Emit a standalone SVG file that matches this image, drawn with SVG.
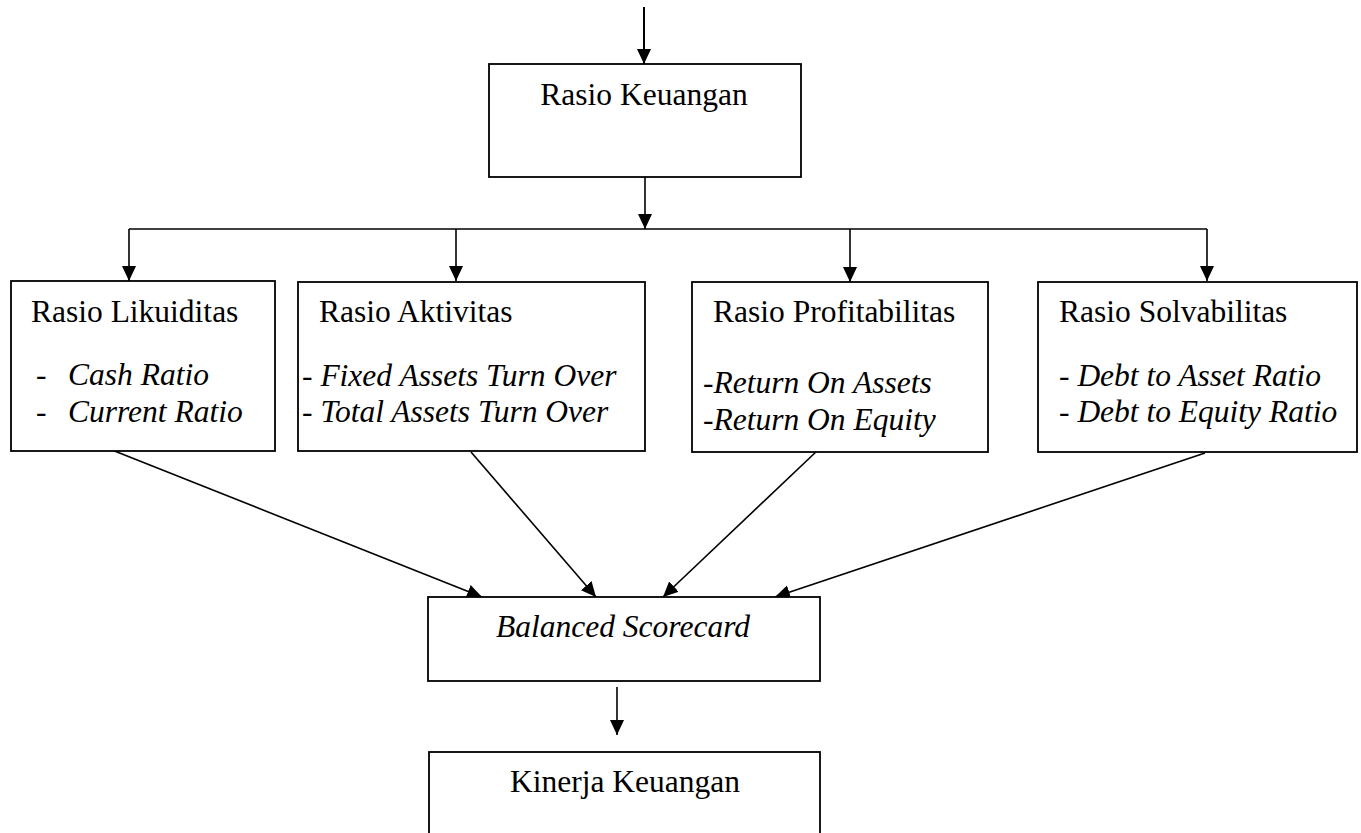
<svg xmlns="http://www.w3.org/2000/svg" width="1361" height="833" viewBox="0 0 1361 833">
<style>
.box{fill:#fff;stroke:#000;stroke-width:1.8}
.t{font-family:"Liberation Serif","Times New Roman",serif;font-size:31.5px;fill:#000}
.i{font-style:italic}
.c{fill:none;stroke:#000;stroke-width:1.6}
</style>
<defs>
<marker id="ah" markerUnits="userSpaceOnUse" markerWidth="16" markerHeight="15" refX="15" refY="7" orient="auto">
<path d="M0,0 L15,7 L0,14 z" fill="#000"/>
</marker>
</defs>
<g id="connectors">
<line class="c" x1="644" y1="7" x2="644" y2="64" marker-end="url(#ah)" style="stroke-width:2"/>
<line class="c" x1="645" y1="177" x2="645" y2="229" marker-end="url(#ah)"/>
<line class="c" x1="129" y1="229" x2="1207" y2="229"/>
<line class="c" x1="129" y1="229" x2="129" y2="281" marker-end="url(#ah)"/>
<line class="c" x1="456" y1="229" x2="456" y2="281" marker-end="url(#ah)"/>
<line class="c" x1="850" y1="229" x2="850" y2="282" marker-end="url(#ah)"/>
<line class="c" x1="1207" y1="229" x2="1207" y2="281" marker-end="url(#ah)"/>
<line class="c" x1="112" y1="450" x2="482" y2="597" marker-end="url(#ah)"/>
<line class="c" x1="471" y1="452" x2="596" y2="597" marker-end="url(#ah)"/>
<line class="c" x1="818" y1="450" x2="663" y2="597" marker-end="url(#ah)"/>
<line class="c" x1="1205" y1="453" x2="775" y2="597" marker-end="url(#ah)"/>
<line class="c" x1="617" y1="687" x2="617" y2="735" marker-end="url(#ah)"/>
</g>
<g id="rasio-keuangan">
<rect class="box" x="489" y="64" width="312" height="113"/>
<text class="t" x="644" y="105" text-anchor="middle">Rasio Keuangan</text>
</g>
<g id="rasio-likuiditas">
<rect class="box" x="11" y="281" width="264" height="170"/>
<text class="t" x="31" y="322">Rasio Likuiditas</text>
<text class="t" y="385"><tspan x="36">-</tspan><tspan x="68" class="i">Cash Ratio</tspan></text>
<text class="t" y="422"><tspan x="36">-</tspan><tspan x="68" class="i">Current Ratio</tspan></text>
</g>
<g id="rasio-aktivitas">
<rect class="box" x="298" y="282" width="347" height="169"/>
<text class="t" x="319" y="322">Rasio Aktivitas</text>
<text class="t" x="302" y="386">- <tspan class="i">Fixed Assets Turn Over</tspan></text>
<text class="t" x="302" y="422">- <tspan class="i">Total Assets Turn Over</tspan></text>
</g>
<g id="rasio-profitabilitas">
<rect class="box" x="692" y="282" width="296" height="170"/>
<text class="t" x="713" y="322">Rasio Profitabilitas</text>
<text class="t" x="703" y="393">-<tspan class="i">Return On Assets</tspan></text>
<text class="t" x="703" y="430">-<tspan class="i">Return On Equity</tspan></text>
</g>
<g id="rasio-solvabilitas">
<rect class="box" x="1038" y="282" width="319" height="170"/>
<text class="t" x="1059" y="322">Rasio Solvabilitas</text>
<text class="t" x="1059" y="386">- <tspan class="i">Debt to Asset Ratio</tspan></text>
<text class="t" x="1059" y="422">- <tspan class="i">Debt to Equity Ratio</tspan></text>
</g>
<g id="balanced-scorecard">
<rect class="box" x="428" y="597" width="392" height="84"/>
<text class="t i" x="623" y="637" text-anchor="middle">Balanced Scorecard</text>
</g>
<g id="kinerja-keuangan">
<rect class="box" x="429" y="752" width="391" height="100"/>
<text class="t" x="625" y="792" text-anchor="middle">Kinerja Keuangan</text>
</g>
</svg>
